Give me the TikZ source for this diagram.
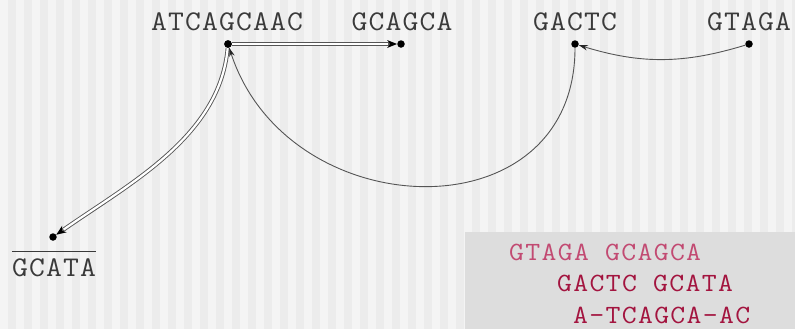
\documentclass[tikz,border=0pt]{standalone}
\usepackage{fontspec}
\newfontfamily\seqfont{Latin Modern Mono}[FakeStretch=1.08,LetterSpace=4]
\newfontfamily\alnfont{Latin Modern Mono}[FakeStretch=1.1,LetterSpace=5]
\usetikzlibrary{arrows.meta}
\definecolor{bgbase}{HTML}{F4F4F4}
\definecolor{bgstripe}{HTML}{ECECEC}
\definecolor{panel}{HTML}{DDDDDD}
\definecolor{seqtext}{HTML}{3A3A3A}
\definecolor{wire}{HTML}{555555}
\definecolor{rosy}{HTML}{C24A72}
\definecolor{crimson}{HTML}{A3143F}
\begin{document}
\begin{tikzpicture}[x=1bp,y=1bp,
  dot/.style={circle,fill=black,inner sep=0pt,minimum size=7.5bp},
  seq/.style={font=\fontsize{28.6}{29}\seqfont,text=seqtext,inner sep=0pt,anchor=base},
  alnline/.style={font=\fontsize{26.4}{27}\alnfont,inner sep=0pt,anchor=base west},
  link/.style={draw=wire,line width=0.9bp,-{Stealth[length=9bp,width=5.5bp,color=black!85]}},
  % double connector: a broad outer stroke with a filled tip ...
  dlinkouter/.style={draw=wire,line width=4bp,
                     -{Stealth[length=10bp,width=8bp,color=black,line width=0pt]}},
  % ... and a light core laid over it
  dlinkcore/.style={draw=white,line width=2.2bp,shorten >=9bp}]
\useasboundingbox (0,0) rectangle (795,-329);
% striped backdrop
\fill[bgbase] (0,0) rectangle (795,-329);
\foreach \i in {0,...,49} \fill[bgstripe] (16*\i+8,0) rectangle ++(8,-329);
% alignment panel
\fill[panel] (465,-232) rectangle (795,-329);

% fragments
\node[dot] (a) at (228,-44) {};
\node[seq] (la) at (227,-30) {ATCAGCAAC};
\node[dot] (b) at (401,-44) {};
\node[seq] (lb) at (402,-30) {GCAGCA};
\node[dot] (c) at (575,-44) {};
\node[seq] (lc) at (575,-30) {GACTC};
\node[dot] (d) at (749,-44) {};
\node[seq] (ld) at (749,-30) {GTAGA};
\node[dot] (e) at (53,-237) {};
\node[seq] (le) at (54,-276) {GCATA};
\draw[seqtext,line width=0.8bp] ([yshift=6.5bp]le.north west) -- ([yshift=6.5bp]le.north east);

% overlaps
\draw[dlinkouter] (a) -- (b);
\draw[dlinkcore] (a) -- (b);
\draw[dlinkouter] (a) to[out=-95,in=35,looseness=0.9] (e);
\draw[dlinkcore] (a) to[out=-95,in=35,looseness=0.9] (e);
\node[dot] at (a) {};
\draw[link] (d) to[bend left=17] (c);
\draw[link] (c) to[out=-90,in=-72,looseness=1.4] (a);

% resulting alignment
\node[alnline,text=rosy] (r1) at (509,-260) {GTAGA GCAGCA};
\node[alnline,text=crimson] (r2) at (557,-291) {GACTC GCATA};
\node[alnline,text=crimson] (r3) at (573,-323) {A-TCAGCA-AC};
\end{tikzpicture}
\end{document}
